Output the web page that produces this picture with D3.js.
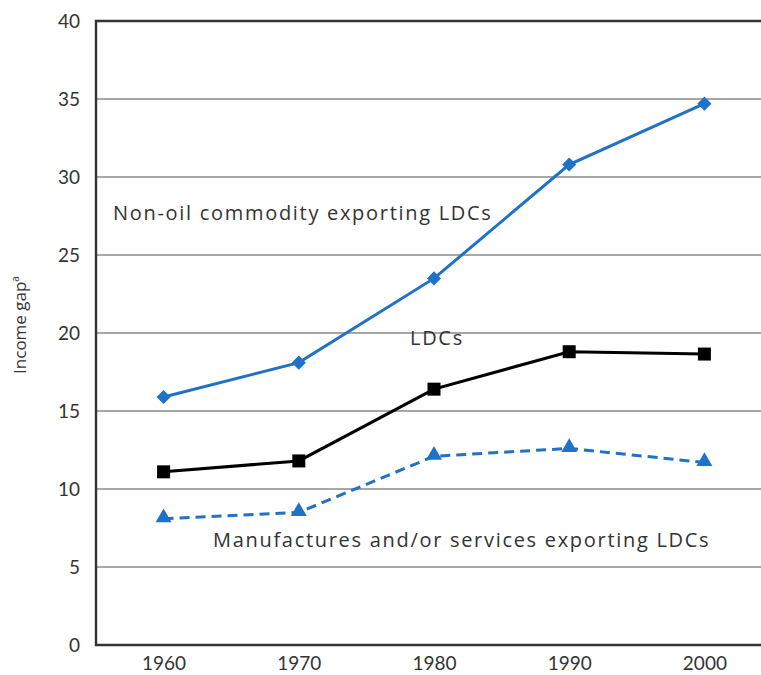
<!DOCTYPE html>
<html>
<head>
<meta charset="utf-8">
<script src="https://cdn.jsdelivr.net/npm/d3@7"></script>
<style>
  body { margin: 0; background: #fff; }
  svg { display: block; }
  text { font-family: "Open Sans", sans-serif; fill: #333; }
</style>
</head>
<body>
<svg id="chart" width="761" height="675"></svg>
<script>
const years = [1960, 1970, 1980, 1990, 2000]
const nonOil = [15.9, 18.1, 23.5, 30.8, 34.7]
const ldcs = [11.1, 11.8, 16.4, 18.8, 18.65]
const manufactures = [8.1, 8.5, 12.1, 12.6, 11.7]
const yTicks = [0, 5, 10, 15, 20, 25, 30, 35, 40]

const blue = '#1f72c6'
const svg = d3.select('#chart')
const margin = {left: 96, top: 21, bottom: 30}
const height = 675

const x = d3.scaleLinear().domain([1955, 2005]).range([margin.left, margin.left + 676])
const y = d3.scaleLinear().domain([0, 40]).range([height - margin.bottom, margin.top])

// grid lines
svg.append('g')
  .selectAll('line')
  .data(yTicks.filter(t => t > 0 && t < 40))
  .enter()
  .append('line')
  .attr('x1', x(1955)).attr('x2', 761)
  .attr('y1', d => y(d)).attr('y2', d => y(d))
  .attr('stroke', '#8a8a8a')
  .attr('stroke-width', 1.6)

// frame: top, left, bottom
svg.append('path')
  .attr('d', `M761,${y(40)}H${x(1955)}V${y(0)}H761`)
  .attr('fill', 'none')
  .attr('stroke', '#333')
  .attr('stroke-width', 2.4)

// y ticks
const yAxis = d3.axisLeft(y).tickValues(yTicks).tickSize(0).tickPadding(16)
svg.append('g')
  .attr('transform', `translate(${x(1955)},0)`)
  .call(yAxis)
  .call(g => g.select('.domain').remove())
  .selectAll('text')
  .style('font-size', '19px')
  .style('font-family', 'Lato, sans-serif')
  .attr('fill', '#4a4a4a')

// x ticks
const xAxis = d3.axisBottom(x).tickValues(years).tickSize(0).tickPadding(12).tickFormat(d3.format('d'))
svg.append('g')
  .attr('transform', `translate(0,${y(0)})`)
  .call(xAxis)
  .call(g => g.select('.domain').remove())
  .selectAll('text')
  .style('font-size', '19px')
  .style('font-family', 'Lato, sans-serif')
  .attr('fill', '#4a4a4a')

// y label
svg.append('text')
  .attr('transform', 'translate(26,325) rotate(-90)')
  .attr('text-anchor', 'middle')
  .style('font-size', '17px')
  .text('Income gap')
  .append('tspan')
  .attr('dy', -7)
  .style('font-size', '10px')
  .text('a')

const line = d3.line().x((d, i) => x(years[i])).y(d => y(d))

// non-oil commodity exporters
svg.append('path').datum(nonOil)
  .attr('d', line).attr('fill', 'none')
  .attr('stroke', blue).attr('stroke-width', 3)
svg.append('g').selectAll('path')
  .data(nonOil).enter().append('path')
  .attr('transform', (d, i) => `translate(${x(years[i])},${y(d)}) rotate(45)`)
  .attr('d', d3.symbol(d3.symbolSquare, 100))
  .attr('fill', blue)

// LDCs
svg.append('path').datum(ldcs)
  .attr('d', line).attr('fill', 'none')
  .attr('stroke', '#000').attr('stroke-width', 3)
svg.append('g').selectAll('rect')
  .data(ldcs).enter().append('rect')
  .attr('x', (d, i) => x(years[i]) - 6.5)
  .attr('y', d => y(d) - 6.5)
  .attr('width', 13).attr('height', 13)
  .attr('fill', '#000')

// manufactures and/or services exporters
svg.append('path').datum(manufactures)
  .attr('d', line).attr('fill', 'none')
  .attr('stroke', blue).attr('stroke-width', 3)
  .attr('stroke-dasharray', '10,6')
svg.append('g').selectAll('path')
  .data(manufactures).enter().append('path')
  .attr('transform', (d, i) => `translate(${x(years[i])},${y(d) - 1})`)
  .attr('d', d3.symbol(d3.symbolTriangle, 110))
  .attr('fill', blue)

// series labels
const labels = [
  {text: 'Non-oil commodity exporting LDCs', x: 113, y: 220},
  {text: 'LDCs', x: 410, y: 345},
  {text: 'Manufactures and/or services exporting LDCs', x: 213, y: 547}
]
svg.append('g').selectAll('text')
  .data(labels).enter().append('text')
  .attr('x', d => d.x).attr('y', d => d.y)
  .style('font-size', '20px')
  .style('letter-spacing', '1.7px')
  .text(d => d.text)
</script>
</body>
</html>
